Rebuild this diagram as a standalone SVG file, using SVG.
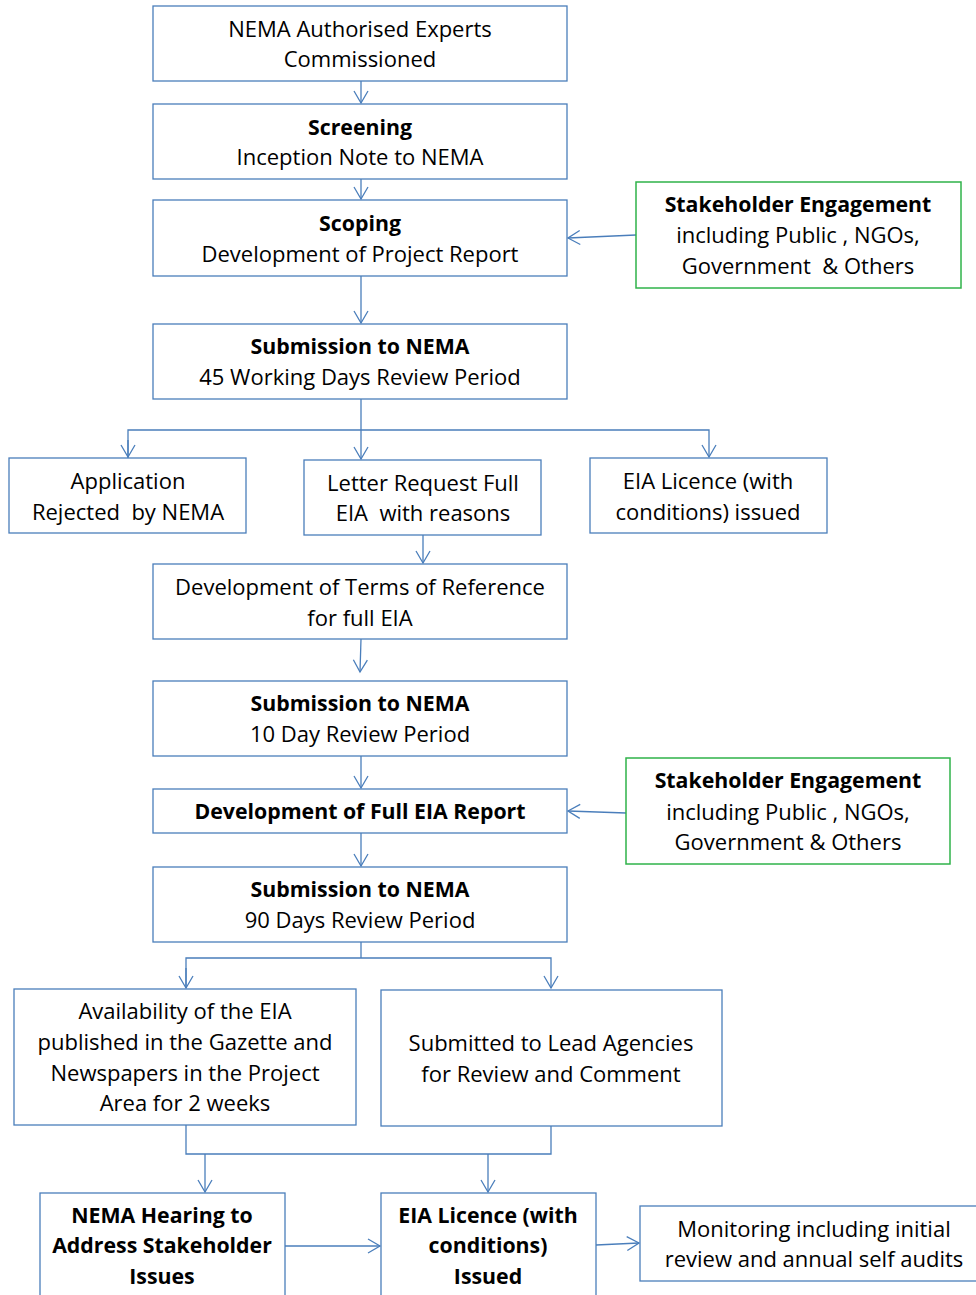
<svg xmlns="http://www.w3.org/2000/svg" width="976" height="1295" viewBox="0 0 976 1295">
<defs>
<marker id="arr" markerUnits="userSpaceOnUse" markerWidth="16" markerHeight="16" refX="13" refY="8" orient="auto" viewBox="0 0 16 16">
<path d="M1,1 L13,8 L1,15" fill="none" stroke="#4a7ebb" stroke-width="1.3"/>
</marker>
</defs>
<style>
.b{fill:#fff;stroke:#4a7ebb;stroke-width:1.3}
.g{fill:#fff;stroke:#2fb34a;stroke-width:1.5}
text{font-family:"Open Sans","Noto Sans",sans-serif;font-size:22px;fill:#000;text-anchor:middle;white-space:pre}
.t{font-weight:bold;font-size:21.3px}
.c{fill:none;stroke:#4a7ebb;stroke-width:1.3}
</style>
<rect width="976" height="1295" fill="#fff"/>
<g id="connectors">
<line class="c" x1="361" y1="81" x2="361" y2="103" marker-end="url(#arr)"/>
<line class="c" x1="361" y1="179" x2="361" y2="199" marker-end="url(#arr)"/>
<line class="c" x1="636" y1="235" x2="568" y2="238" marker-end="url(#arr)"/>
<line class="c" x1="361" y1="276" x2="361" y2="323" marker-end="url(#arr)"/>
<polyline class="c" points="361,399 361,430"/>
<line class="c" x1="361" y1="430" x2="361" y2="459" marker-end="url(#arr)"/>
<polyline class="c" points="128,458 128,430 709,430 709,457" marker-end="url(#arr)"/>
<line class="c" x1="128" y1="440" x2="128" y2="457" marker-end="url(#arr)"/>
<line class="c" x1="423" y1="535" x2="423" y2="563" marker-end="url(#arr)"/>
<line class="c" x1="361" y1="639" x2="360" y2="672" marker-end="url(#arr)"/>
<line class="c" x1="361" y1="756" x2="361" y2="788" marker-end="url(#arr)"/>
<line class="c" x1="626" y1="813" x2="568" y2="811" marker-end="url(#arr)"/>
<line class="c" x1="361" y1="833" x2="361" y2="866" marker-end="url(#arr)"/>
<polyline class="c" points="361,942 361,958"/>
<polyline class="c" points="186,988 186,958 551,958 551,988" marker-end="url(#arr)"/>
<line class="c" x1="186" y1="968" x2="186" y2="988" marker-end="url(#arr)"/>
<polyline class="c" points="186,1125 186,1154 551,1154 551,1126"/>
<line class="c" x1="205" y1="1154" x2="205" y2="1192" marker-end="url(#arr)"/>
<line class="c" x1="488" y1="1154" x2="488" y2="1192" marker-end="url(#arr)"/>
<line class="c" x1="285" y1="1246" x2="380" y2="1246" marker-end="url(#arr)"/>
<line class="c" x1="596" y1="1245" x2="639" y2="1243" marker-end="url(#arr)"/>
</g>
<g id="n1"><rect class="b" x="153" y="6" width="414" height="75"/><text x="360" y="37">NEMA Authorised Experts</text><text x="360" y="67">Commissioned</text></g>
<g id="n2"><rect class="b" x="153" y="104" width="414" height="75"/><text class="t" x="360" y="135">Screening</text><text x="360" y="165">Inception Note to NEMA</text></g>
<g id="n3"><rect class="b" x="153" y="200" width="414" height="76"/><text class="t" x="360" y="231">Scoping</text><text x="360" y="262">Development of Project Report</text></g>
<g id="s1"><rect class="g" x="636" y="182" width="325" height="106"/><text class="t" x="798" y="212">Stakeholder Engagement</text><text x="798" y="243">including Public , NGOs,</text><text x="798" y="274">Government  &amp; Others</text></g>
<g id="n4"><rect class="b" x="153" y="324" width="414" height="75"/><text class="t" x="360" y="354">Submission to NEMA</text><text x="360" y="385">45 Working Days Review Period</text></g>
<g id="n5a"><rect class="b" x="9" y="458" width="237" height="75"/><text x="128" y="489">Application</text><text x="128" y="520">Rejected  by NEMA</text></g>
<g id="n5b"><rect class="b" x="304" y="460" width="237" height="75"/><text x="423" y="491">Letter Request Full</text><text x="423" y="521">EIA  with reasons</text></g>
<g id="n5c"><rect class="b" x="590" y="458" width="237" height="75"/><text x="708" y="489">EIA Licence (with</text><text x="708" y="520">conditions) issued</text></g>
<g id="n6"><rect class="b" x="153" y="564" width="414" height="75"/><text x="360" y="595">Development of Terms of Reference</text><text x="360" y="626">for full EIA</text></g>
<g id="n7"><rect class="b" x="153" y="681" width="414" height="75"/><text class="t" x="360" y="711">Submission to NEMA</text><text x="360" y="742">10 Day Review Period</text></g>
<g id="n8"><rect class="b" x="153" y="789" width="414" height="44"/><text class="t" x="360" y="819">Development of Full EIA Report</text></g>
<g id="s2"><rect class="g" x="626" y="758" width="324" height="106"/><text class="t" x="788" y="788">Stakeholder Engagement</text><text x="788" y="820">including Public , NGOs,</text><text x="788" y="850">Government &amp; Others</text></g>
<g id="n9"><rect class="b" x="153" y="867" width="414" height="75"/><text class="t" x="360" y="897">Submission to NEMA</text><text x="360" y="928">90 Days Review Period</text></g>
<g id="n10a"><rect class="b" x="14" y="989" width="342" height="136"/><text x="185" y="1019">Availability of the EIA</text><text x="185" y="1050">published in the Gazette and</text><text x="185" y="1081">Newspapers in the Project</text><text x="185" y="1111">Area for 2 weeks</text></g>
<g id="n10b"><rect class="b" x="381" y="990" width="341" height="136"/><text x="551" y="1051">Submitted to Lead Agencies</text><text x="551" y="1082">for Review and Comment</text></g>
<g id="n11a"><rect class="b" x="40" y="1193" width="245" height="120"/><text class="t" x="162" y="1223">NEMA Hearing to</text><text class="t" x="162" y="1253">Address Stakeholder</text><text class="t" x="162" y="1284">Issues</text></g>
<g id="n11b"><rect class="b" x="381" y="1193" width="215" height="120"/><text class="t" x="488" y="1223">EIA Licence (with</text><text class="t" x="488" y="1253">conditions)</text><text class="t" x="488" y="1284">Issued</text></g>
<g id="n12"><rect class="b" x="640" y="1206" width="345" height="75"/><text x="814" y="1237">Monitoring including initial</text><text x="814" y="1267">review and annual self audits</text></g>
</svg>
